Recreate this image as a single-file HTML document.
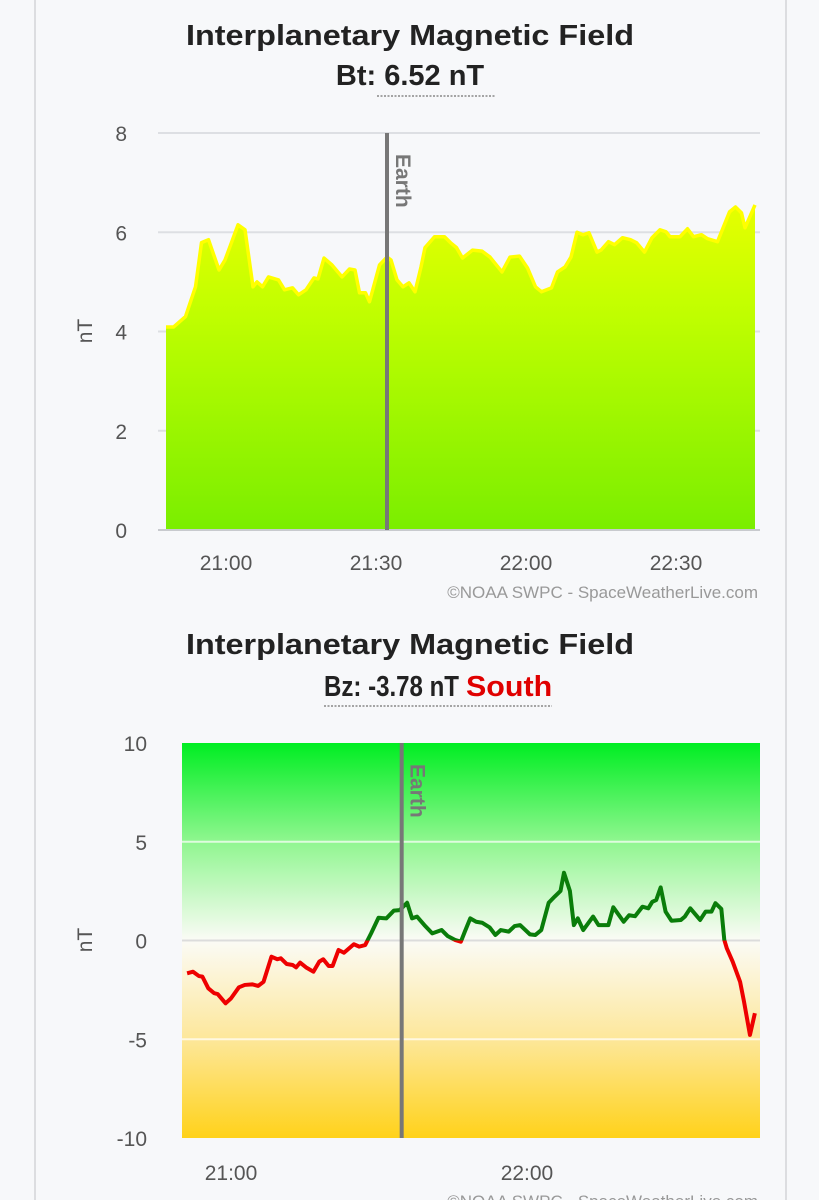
<!DOCTYPE html>
<html><head><meta charset="utf-8"><style>
html,body{margin:0;padding:0;background:#f7f8fa;}
svg{display:block;font-family:"Liberation Sans",sans-serif;}
</style></head><body>
<svg id="root" width="819" height="1200" viewBox="0 0 819 1200">
<defs>
<linearGradient id="btFill" x1="0" y1="0" x2="0" y2="1">
<stop offset="0" stop-color="#e6ff00"/><stop offset="0.3" stop-color="#c4ff00"/><stop offset="1" stop-color="#7aee00"/>
</linearGradient>
<linearGradient id="bzBg" x1="0" y1="0" x2="0" y2="1">
<stop offset="0" stop-color="#00ee22"/><stop offset="0.25" stop-color="#90f690"/><stop offset="0.5" stop-color="#fbfbf6"/><stop offset="0.75" stop-color="#fde79a"/><stop offset="1" stop-color="#ffd21a"/>
</linearGradient>
<clipPath id="clipAbove"><rect x="182" y="743" width="578" height="197.5"/></clipPath>
<clipPath id="clipBelow"><rect x="182" y="940.5" width="578" height="198"/></clipPath>
</defs>
<line x1="35" y1="0" x2="35" y2="1200" stroke="#dcdde0" stroke-width="2"/>
<line x1="786" y1="0" x2="786" y2="1200" stroke="#dcdde0" stroke-width="2"/>

<text x="410" y="45" text-anchor="middle" font-size="29" font-weight="bold" fill="#222" textLength="448" lengthAdjust="spacingAndGlyphs">Interplanetary Magnetic Field</text>
<text x="410" y="85" text-anchor="middle" font-size="29" font-weight="bold" fill="#222">Bt: 6.52 nT</text>
<line x1="377" y1="96" x2="495" y2="96" stroke="#888" stroke-width="1.5" stroke-dasharray="2,1.5"/>

<g id="btChart"></g>

<text x="410" y="654" text-anchor="middle" font-size="29" font-weight="bold" fill="#222" textLength="448" lengthAdjust="spacingAndGlyphs">Interplanetary Magnetic Field</text>
<text x="0" y="0" transform="translate(324,696) scale(0.83,1)" font-size="29" font-weight="bold" fill="#222">Bz: -3.78 nT</text>
<text x="0" y="0" transform="translate(466,696) scale(1.05,1)" font-size="29" font-weight="bold" fill="#e00000">South</text>
<line x1="324" y1="706" x2="552" y2="706" stroke="#888" stroke-width="1.5" stroke-dasharray="2,1.5"/>

<g id="bzChart"></g>
</svg>
<script>
// ---- Bt chart data (minutes from 21:00, nT) ----
const btMinutes = [-12.0,-10.5,-8.1,-6.1,-4.9,-3.5,-1.4,-0.2,2.4,3.8,5.4,6.2,7.3,8.5,10.5,11.7,13.3,14.5,16.0,17.6,18.4,19.6,21.2,23.2,24.7,25.8,26.7,27.9,28.7,30.7,32.2,33.0,34.2,35.4,36.6,37.8,39.0,39.8,41.7,43.7,44.9,46.1,47.3,49.3,51.2,52.8,55.2,56.8,58.7,60.3,61.9,63.1,65.1,66.3,67.8,69.0,70.2,71.4,72.6,74.2,75.0,76.5,77.7,79.3,80.9,82.1,83.7,85.2,86.8,88.0,88.8,90.8,92.3,93.5,95.1,96.3,98.3,99.5,100.7,101.9,103.1,103.8,105.8];
const btValues = [4.09,4.09,4.3,4.9,5.79,5.85,5.24,5.44,6.15,6.05,4.9,5.0,4.9,5.1,5.04,4.84,4.88,4.74,4.84,5.08,5.06,5.48,5.34,5.1,5.26,5.24,4.78,4.78,4.6,5.34,5.5,5.44,5.04,4.9,4.98,4.8,5.3,5.69,5.91,5.91,5.79,5.69,5.48,5.64,5.62,5.5,5.2,5.5,5.52,5.28,4.9,4.8,4.88,5.2,5.3,5.5,6.0,5.95,5.99,5.6,5.64,5.81,5.75,5.89,5.85,5.79,5.6,5.89,6.05,6.01,5.91,5.91,6.07,5.91,5.95,5.87,5.81,6.11,6.41,6.51,6.39,6.09,6.55];
const btYTicks = [0,2,4,6,8];
const btXTicks = [0,30,60,90];
const btXLabels = ["21:00","21:30","22:00","22:30"];
const btEarthMinute = 32.2;

// ---- Bz chart data ----
const bzMinutes = [-8.9,-7.7,-6.5,-5.8,-4.6,-3.4,-2.7,-1.1,0.0,1.6,2.8,4.3,5.5,6.6,8.2,9.4,10.1,11.3,12.5,13.2,14.0,15.2,16.7,17.9,18.7,19.8,20.6,21.8,22.9,24.9,26.0,27.2,28.4,29.9,31.5,33.0,34.2,35.7,36.7,37.7,39.2,40.8,42.7,43.9,45.4,46.6,47.4,48.5,49.7,50.9,52.4,53.6,54.7,56.3,57.5,58.6,60.6,61.7,62.9,64.4,65.6,66.8,67.5,68.7,69.5,70.3,71.4,73.4,74.5,76.5,77.5,79.6,80.7,81.9,83.4,84.6,85.4,86.2,87.1,88.1,89.3,91.2,92.0,93.1,95.1,96.2,97.4,98.2,99.4,100.0,100.5,101.7,103.2,104.0,105.2,106.2];
const bzValues = [-1.66,-1.58,-1.80,-1.83,-2.42,-2.67,-2.71,-3.18,-2.93,-2.37,-2.25,-2.22,-2.30,-2.09,-0.82,-0.95,-0.90,-1.19,-1.24,-1.36,-1.12,-1.36,-1.58,-1.07,-0.95,-1.29,-1.29,-0.48,-0.62,-0.19,-0.31,-0.23,0.36,1.15,1.12,1.51,1.54,1.91,1.12,1.21,0.78,0.36,0.53,0.23,0.03,-0.06,0.45,1.12,0.95,0.90,0.67,0.28,0.53,0.45,0.73,0.78,0.31,0.28,0.53,1.91,2.22,2.51,3.43,2.51,0.78,1.12,0.53,1.21,0.78,0.78,1.68,0.95,1.28,1.23,1.71,1.63,1.96,2.05,2.69,1.46,1.00,1.04,1.21,1.63,1.04,1.46,1.46,1.89,1.60,0.03,-0.39,-1.07,-2.09,-3.10,-4.78,-3.68];
const bzYTicks = [10,5,0,-5,-10];
const bzXTicks = [0,60];
const bzXLabels = ["21:00","22:00"];
const bzEarthMinute = 34.6;

const NS = "http://www.w3.org/2000/svg";
function mk(parent, tag, attrs, text){
  const e = document.createElementNS(NS, tag);
  for (const k in attrs) e.setAttribute(k, attrs[k]);
  if (text !== undefined) e.textContent = text;
  parent.appendChild(e);
  return e;
}

// ---------- Bt chart ----------
(function(){
  const g = document.getElementById('btChart');
  const L=163, R=757, T=133, B=530;
  const x = m => 226 + m*5.0;
  const y = v => B - v*(B-T)/8;
  btYTicks.forEach(v=>{
    if (v>0){
      const gl = mk(g,'line',{x1:158,x2:760,y1:y(v),y2:y(v),stroke:'#dddfe3','stroke-width':2});
      
      
    }
    const t = mk(g,'text',{x:127,y:y(v)+8,'text-anchor':'end','font-size':21,fill:'#555'},String(v));
    
    
  });
  let d = `M${x(btMinutes[0])},${B}`;
  let ld = '';
  btMinutes.forEach((m,i)=>{ d += ` L${x(m)},${y(btValues[i])}`; ld += (i?' L':'M')+x(m)+','+y(btValues[i]); });
  d += ` L${x(btMinutes[btMinutes.length-1])},${B} Z`;
  const area = mk(g,'path',{d:d,fill:'url(#btFill)'});
  
  
  const line = mk(g,'path',{d:ld,fill:'none',stroke:'#ffff00','stroke-width':3.5,'stroke-linejoin':'round'});
  
  
  const ax = mk(g,'line',{x1:158,x2:760,y1:B,y2:B,stroke:'#c8cace','stroke-width':2});
  
  
  const ex = x(btEarthMinute);
  const el = mk(g,'line',{x1:ex,x2:ex,y1:T,y2:B,stroke:'#777','stroke-width':4});
  
  
  const et = mk(g,'text',{x:0,y:0,transform:`translate(${ex+9},154) rotate(90)`,'font-size':21,'font-weight':'bold',fill:'#777'},'Earth');
  
  
  btXTicks.forEach((m,i)=>{
    const t = mk(g,'text',{x:x(m),y:570,'text-anchor':'middle','font-size':21,fill:'#555'},btXLabels[i]);
    
    
  });
  const yt = mk(g,'text',{x:0,y:0,transform:'translate(92,331) rotate(-90)','text-anchor':'middle','font-size':21,fill:'#555'},'nT');
  
  
  const cr = mk(g,'text',{x:758,y:598,'text-anchor':'end','font-size':17,fill:'#999'},'©NOAA SWPC - SpaceWeatherLive.com');
  
  
})();

// ---------- Bz chart ----------
(function(){
  const g = document.getElementById('bzChart');
  const L=182, R=760, T=743, B=1138;
  const x = m => 231 + m*4.933;
  const y = v => 940.5 - v*19.75;
  const bg = mk(g,'rect',{x:L,y:T,width:R-L,height:B-T,fill:'url(#bzBg)'});
  
  
  bzYTicks.forEach(v=>{
    if (v<10 && v>-10){
      const gl = mk(g,'line',{x1:L,x2:R,y1:y(v),y2:y(v),stroke:v===0?'#dcdcdc':'#ffffff','stroke-opacity':v===0?1:0.7,'stroke-width':2});
      
      
    }
    const t = mk(g,'text',{x:147,y:y(v)+8,'text-anchor':'end','font-size':21,fill:'#555'},String(v));
    
    
  });
  let ld='';
  bzMinutes.forEach((m,i)=>{ ld += (i?' L':'M')+x(m)+','+y(bzValues[i]); });
  const up = mk(g,'path',{d:ld,fill:'none',stroke:'#0a7d0a','stroke-width':4,'stroke-linejoin':'round','clip-path':'url(#clipAbove)'});
  
  
  const dn = mk(g,'path',{d:ld,fill:'none',stroke:'#ee0000','stroke-width':4,'stroke-linejoin':'round','clip-path':'url(#clipBelow)'});
  
  
  const ex = x(bzEarthMinute);
  const el = mk(g,'line',{x1:ex,x2:ex,y1:T,y2:B,stroke:'#777','stroke-width':4});
  
  
  const et = mk(g,'text',{x:0,y:0,transform:`translate(${ex+9},764) rotate(90)`,'font-size':21,'font-weight':'bold',fill:'#777'},'Earth');
  
  
  bzXTicks.forEach((m,i)=>{
    const t = mk(g,'text',{x:x(m),y:1180,'text-anchor':'middle','font-size':21,fill:'#555'},bzXLabels[i]);
    
    
  });
  const yt = mk(g,'text',{x:0,y:0,transform:'translate(92,940) rotate(-90)','text-anchor':'middle','font-size':21,fill:'#555'},'nT');
  
  
  const cr = mk(g,'text',{x:758,y:1207,'text-anchor':'end','font-size':17,fill:'#999'},'©NOAA SWPC - SpaceWeatherLive.com');
  
  
})();
</script>
</body></html>
